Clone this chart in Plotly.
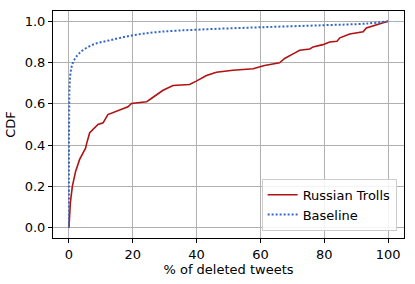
import plotly.graph_objects as go

troll_x = [0, 0.44, 1.06, 2.1, 3.35, 4.4, 5.2, 5.6, 6.5, 9.1, 10.7, 12.2, 14.3, 15.9, 18.5, 19.6,
           24.3, 25.8, 29.5, 32.6, 37.8, 39.9, 42.0, 43.1, 46.2, 51.4, 57.7, 61.3, 66.0, 67.6,
           70.8, 72.3, 75.5, 76.5, 79.6, 81.7, 84.0, 84.9, 88.0, 92.2, 93.2, 97.4, 100]
troll_y = [0, 0.121, 0.2, 0.274, 0.331, 0.363, 0.385, 0.411, 0.46, 0.5, 0.508, 0.548, 0.56, 0.573, 0.586, 0.602,
           0.61, 0.626, 0.666, 0.689, 0.694, 0.71, 0.728, 0.737, 0.753, 0.763, 0.77, 0.786, 0.799, 0.82,
           0.847, 0.86, 0.866, 0.876, 0.887, 0.9, 0.903, 0.92, 0.939, 0.949, 0.968, 0.989, 1.0]

base_x = [0, 0.05, 0.2, 0.5, 1.25, 3.35, 7.5, 12.8, 20, 28.4, 41, 59.8, 79.6, 93.2, 100]
base_y = [0, 0.5, 0.685, 0.75, 0.8, 0.847, 0.887, 0.908, 0.932, 0.949, 0.96, 0.971, 0.981, 0.989, 1.0]

x_ticks = [0, 20, 40, 60, 80, 100]
y_ticks = [0.0, 0.2, 0.4, 0.6, 0.8, 1.0]

fig = go.Figure()
fig.add_trace(go.Scatter(x=troll_x, y=troll_y, mode="lines", name="Russian Trolls",
                         line=dict(color="#b01212", width=1.6)))
fig.add_trace(go.Scatter(x=base_x, y=base_y, mode="lines", name="Baseline",
                         line=dict(color="#3366cc", width=2, dash="2px,2px", shape="spline")))

axis_common = dict(showgrid=True, gridcolor="#b0b0b0", gridwidth=1, showline=True, linecolor="black",
                   linewidth=1, mirror=True, ticks="outside", ticklen=4, tickcolor="black",
                   zeroline=False, automargin=False, tickfont=dict(size=13, color="black"))

fig.update_xaxes(range=[-5, 105], tickvals=x_ticks, ticktext=[str(v) for v in x_ticks],
                 title=dict(text="% of deleted tweets", font=dict(size=13, color="black"), standoff=4),
                 **axis_common)
fig.update_yaxes(range=[-0.05, 1.05], tickvals=y_ticks, ticktext=[f"{v:.1f}" for v in y_ticks],
                 title=dict(text="CDF", font=dict(size=13, color="black"), standoff=6),
                 **axis_common)

fig.update_layout(
    width=415, height=284,
    margin=dict(l=53, r=11, t=11, b=46),
    paper_bgcolor="white", plot_bgcolor="white",
    font=dict(family="DejaVu Sans", size=13, color="black"),
    showlegend=True,
    legend=dict(x=0.979, y=0.032, xanchor="right", yanchor="bottom",
                bgcolor="rgba(255,255,255,0.85)", bordercolor="#cccccc", borderwidth=1,
                font=dict(size=13), tracegroupgap=0, itemwidth=30),
)

fig.write_html("out.html", config={"displayModeBar": False},
               post_script="document.body.style.margin='0';")
